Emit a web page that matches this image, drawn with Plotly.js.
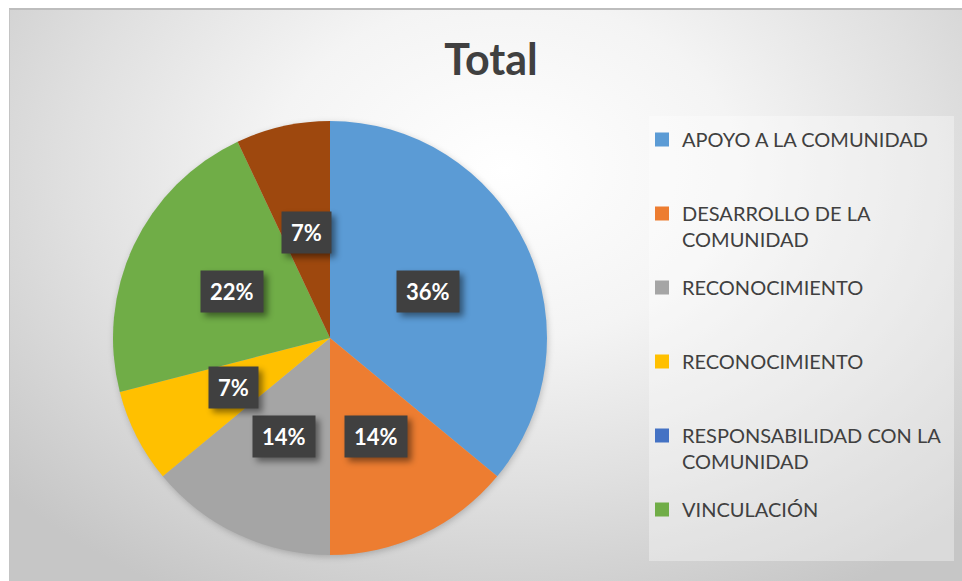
<!DOCTYPE html>
<html>
<head>
<meta charset="utf-8">
<script src="https://cdn.plot.ly/plotly-3.0.1.min.js"></script>
<style>
  html, body { margin: 0; padding: 0; background: #ffffff; }
  #wrap { position: relative; width: 962px; height: 581px; overflow: hidden; background: #ffffff; }
  #bg { position: absolute; left: 9px; top: 8px; width: 953px; height: 573px;
        border-top: 2px solid #bdbdbd; border-left: 1px solid #c4c4c4; box-sizing: border-box;
        background: radial-gradient(ellipse 70% 85% at 52% 28%, #ffffff 0%, #f4f4f4 35%, #e0e0e0 65%, #c6c6c6 100%); }
  #chart { position: absolute; left: 0; top: 0; width: 962px; height: 581px; }
  .annotation-text-g rect.bg { filter: drop-shadow(4px 4px 3px rgba(0,0,0,0.45)); }
  .pielayer { filter: drop-shadow(1px 2px 3px rgba(0,0,0,0.2)); }
</style>
</head>
<body>
<div id="wrap">
  <div id="bg"></div>
  <div id="chart"></div>
</div>
<script>
// ---- data ----
const categories = ["APOYO A LA COMUNIDAD", "DESARROLLO DE LA COMUNIDAD", "RECONOCIMIENTO", "RECONOCIMIENTO",
                    "RESPONSABILIDAD CON LA COMUNIDAD", "VINCULACIÓN", "(en blanco)"];
const legendLabels = ["APOYO A LA COMUNIDAD", "DESARROLLO DE LA<br>COMUNIDAD", "RECONOCIMIENTO", "RECONOCIMIENTO",
                      "RESPONSABILIDAD CON LA<br>COMUNIDAD", "VINCULACIÓN"];
const percents = [36, 14, 14, 7, 0, 22, 7];
const colors = ["#5B9BD5", "#ED7D31", "#A5A5A5", "#FFC000", "#4472C4", "#70AD47", "#9E480E"];
const titleText = "Total";

// ---- layout constants (pixels) ----
const W = 962, H = 581;
const pieBox = { x0: 113, x1: 547, y0: 121, y1: 555 };
const textColor = "#404040";

const total = percents.reduce((a, b) => a + b, 0);

const traces = [{
  type: "pie",
  values: percents,
  labels: categories.map((c, i) => i + ": " + c),
  marker: { colors: colors, line: { width: 0 } },
  sort: false,
  direction: "clockwise",
  rotation: 0,
  textinfo: "none",
  hoverinfo: "none",
  showlegend: false,
  domain: { x: [pieBox.x0 / W, pieBox.x1 / W], y: [1 - pieBox.y1 / H, 1 - pieBox.y0 / H] }
}];

// legend entries (the last category is not shown in the legend)
legendLabels.forEach((lab, i) => {
  const oneLine = lab.indexOf("<br>") < 0;
  traces.push({
    type: "scatter", mode: "markers", x: [null], y: [null],
    name: oneLine ? lab + "<br> " : lab,
    legendgroup: "g" + i,
    marker: { symbol: "square", size: 14, color: colors[i] },
    hoverinfo: "none"
  });
});

// percentage labels placed at half radius of each slice's mid-angle
const cx = (pieBox.x0 + pieBox.x1) / 2, cy = (pieBox.y0 + pieBox.y1) / 2;
const R = (pieBox.x1 - pieBox.x0) / 2;
const annotations = [];
let cum = 0;
percents.forEach((v, i) => {
  const frac = v / total;
  const mid = (cum + frac / 2) * 2 * Math.PI;
  cum += frac;
  if (v === 0) return;
  const px = cx + 0.5 * R * Math.sin(mid);
  const py = cy - 0.5 * R * Math.cos(mid);
  annotations.push({
    xref: "paper", yref: "paper", x: px / W, y: 1 - py / H,
    xanchor: "center", yanchor: "middle", showarrow: false,
    text: Math.round(frac * 100) + "%",
    font: { family: "Lato, 'Open Sans', sans-serif", size: 22, color: "#ffffff", weight: 700 },
    bgcolor: "#404040", borderpad: 9, height: 23
  });
});

const layout = {
  width: W, height: H,
  margin: { l: 0, r: 0, t: 0, b: 0 },
  paper_bgcolor: "rgba(0,0,0,0)",
  plot_bgcolor: "rgba(0,0,0,0)",
  title: {
    text: titleText, x: 491 / W, xanchor: "center", y: 1 - 60 / H, yanchor: "middle",
    font: { family: "Lato, 'Open Sans', sans-serif", size: 43, color: textColor, weight: 700 }
  },
  xaxis: { visible: false }, yaxis: { visible: false },
  showlegend: true,
  legend: {
    x: 642 / W, xanchor: "left", y: 1 - 120 / H, yanchor: "top",
    bgcolor: "rgba(0,0,0,0)", borderwidth: 0,
    traceorder: "grouped", tracegroupgap: 19, valign: "top",
    font: { family: "Lato, 'Open Sans', sans-serif", size: 20, color: textColor }
  },
  shapes: [{
    type: "rect", xref: "paper", yref: "paper", layer: "below",
    x0: 649 / W, x1: 954 / W, y0: 1 - 561 / H, y1: 1 - 116 / H,
    fillcolor: "rgba(255,255,255,0.35)", line: { width: 0 }
  }],
  annotations: annotations
};

Plotly.newPlot("chart", traces, layout, { staticPlot: true, displayModeBar: false });
</script>
</body>
</html>
